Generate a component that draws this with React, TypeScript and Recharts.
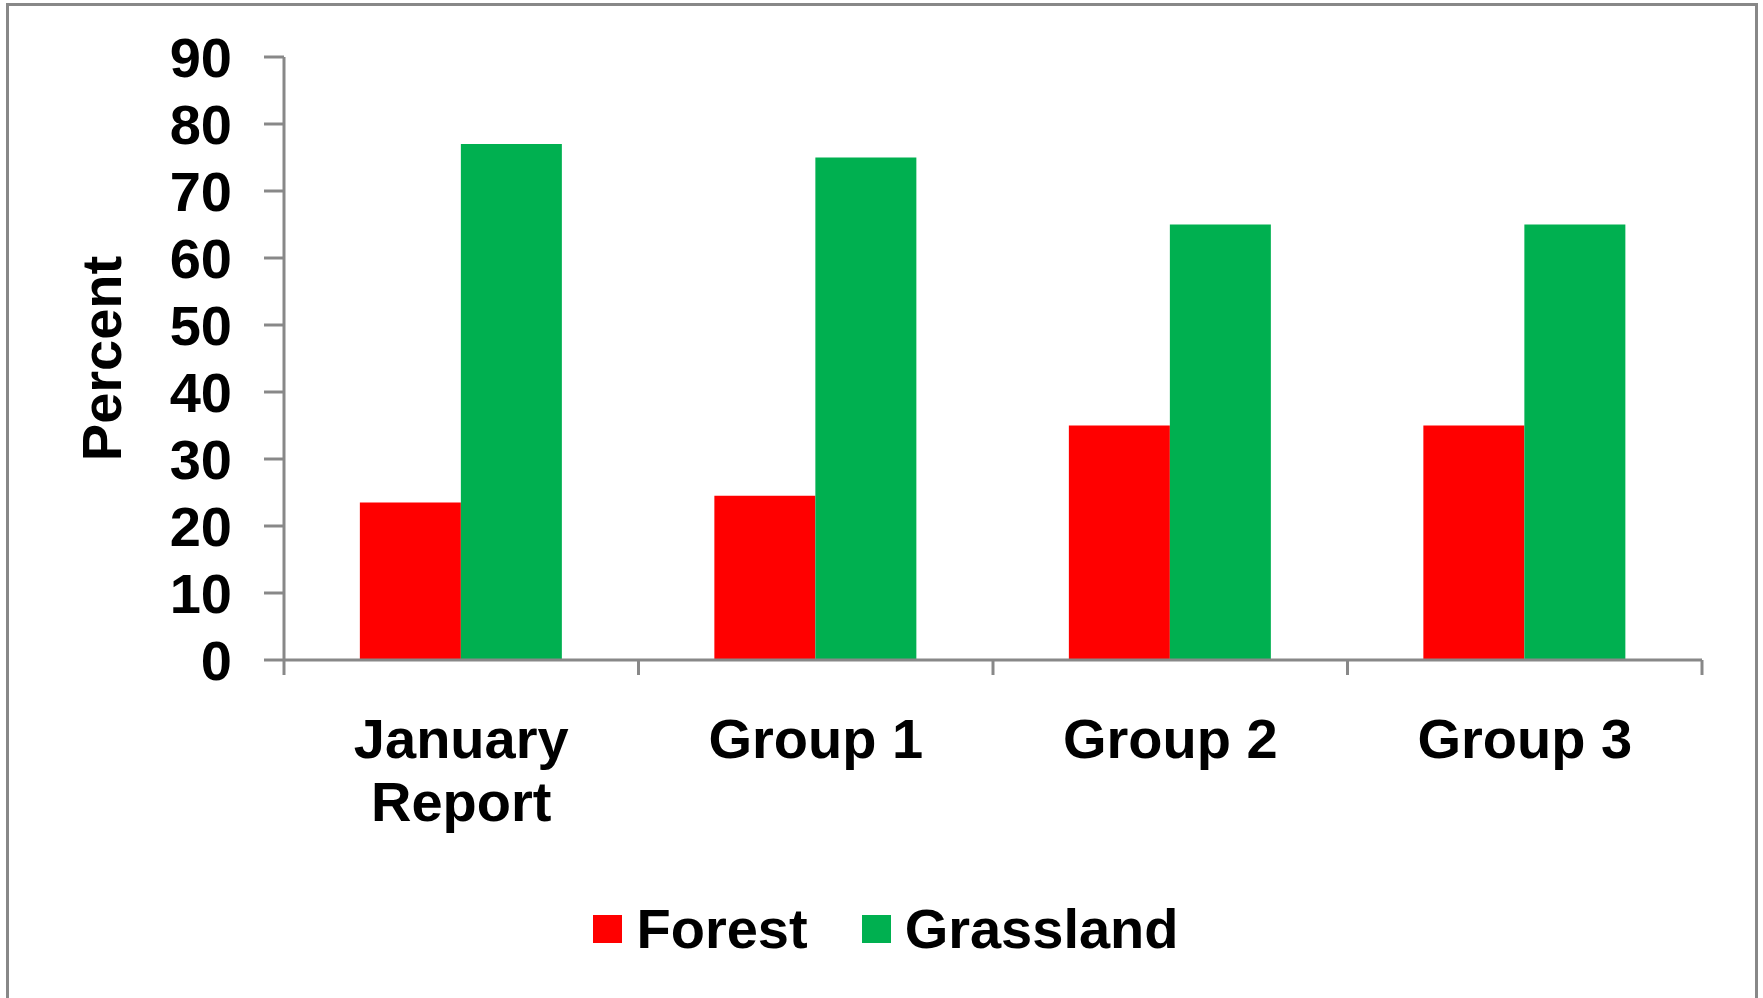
import React from 'react';
import { BarChart, Bar, XAxis, YAxis, Legend, Label } from 'recharts';

const categories = ['January Report', 'Group 1', 'Group 2', 'Group 3'];
const forestValues = [23.5, 24.5, 35, 35];
const grasslandValues = [77, 75, 65, 65];
const percentTicks = [0, 10, 20, 30, 40, 50, 60, 70, 80, 90];

const FONT = '"Liberation Sans", Arial, sans-serif';
const FONT_SIZE = 56;
const AXIS_GREY = '#888888';
const FOREST_RED = '#FF0000';
const GRASS_GREEN = '#00B050';

const WIDTH = 1763;
const HEIGHT = 998;
const MARGIN = { top: 57, right: 61, bottom: 39, left: 0 };
const Y_AXIS_W = 284;
const X_AXIS_H = 239;
const LEGEND_H = 60;

const chartData = categories.map((name, i) => ({
  name,
  forest: forestValues[i],
  grassland: grasslandValues[i],
}));

// half of one category band, used when the tick payload has no offset
const bandHalf = (WIDTH - MARGIN.left - MARGIN.right - Y_AXIS_W) / categories.length / 2;

const textStyle = { fontFamily: FONT, fontSize: FONT_SIZE, fontWeight: 'bold' as const };

let measureCtx: CanvasRenderingContext2D | null = null;
function textWidth(s: string) {
  if (!measureCtx) {
    measureCtx = document.createElement('canvas').getContext('2d');
  }
  if (!measureCtx) return s.length * FONT_SIZE * 0.6;
  measureCtx.font = `bold ${FONT_SIZE}px ${FONT}`;
  return measureCtx.measureText(s).width;
}

// greedy word wrap into the category band
function wrapLabel(label: string, maxWidth: number) {
  const lines: string[] = [];
  let current = '';
  label.split(' ').forEach((word) => {
    const next = current ? `${current} ${word}` : word;
    if (current && textWidth(next) > maxWidth) {
      lines.push(current);
      current = word;
    } else {
      current = next;
    }
  });
  if (current) lines.push(current);
  return lines;
}

// Category label plus tick marks on the band edges (Excel style)
function CategoryTick(props: any) {
  const { x, y, payload } = props;
  const index = props.index ?? payload?.index ?? 0;
  const half = payload && payload.offset ? payload.offset : bandHalf;
  const isLast = index === categories.length - 1;
  const lines = wrapLabel(String(payload.value), half * 2 - 20);
  return (
    <g>
      <line x1={x - half} x2={x - half} y1={y} y2={y + 15} stroke={AXIS_GREY} strokeWidth={3} />
      {isLast && (
        <line x1={x + half} x2={x + half} y1={y} y2={y + 15} stroke={AXIS_GREY} strokeWidth={3} />
      )}
      <text x={x} y={y + 98} textAnchor="middle" fill="#000" style={textStyle}>
        {lines.map((line, i) => (
          <tspan key={line} x={x} dy={i === 0 ? 0 : 63}>
            {line}
          </tspan>
        ))}
      </text>
    </g>
  );
}

function PercentLabel(props: any) {
  const { viewBox } = props;
  const cx = viewBox.x + 101;
  const cy = viewBox.y + viewBox.height / 2;
  return (
    <text
      x={cx}
      y={cy}
      transform={`rotate(-90, ${cx}, ${cy})`}
      textAnchor="middle"
      dominantBaseline="central"
      fill="#000"
      style={textStyle}
    >
      Percent
    </text>
  );
}

function LegendContent(props: any) {
  const { payload = [] } = props;
  return (
    <div
      style={{
        display: 'flex',
        justifyContent: 'center',
        alignItems: 'center',
        height: LEGEND_H,
        paddingLeft: 70,
        lineHeight: `${LEGEND_H}px`,
        color: '#000',
        ...textStyle,
      }}
    >
      {payload.map((entry: any, i: number) => (
        <div
          key={entry.value}
          style={{ display: 'flex', alignItems: 'center', marginLeft: i ? 54 : 0 }}
        >
          <span
            style={{
              display: 'inline-block',
              width: 29,
              height: 28,
              background: entry.color,
              marginRight: 14,
            }}
          />
          <span>{entry.value}</span>
        </div>
      ))}
    </div>
  );
}

export default function App() {
  return (
    <div
      style={{
        position: 'absolute',
        left: 0,
        top: 0,
        width: WIDTH,
        height: HEIGHT,
        overflow: 'hidden',
        background: '#fff',
      }}
    >
      <div
        style={{
          position: 'absolute',
          left: 6,
          top: 3,
          width: 1752,
          height: 1100,
          border: `3px solid ${AXIS_GREY}`,
          boxSizing: 'border-box',
        }}
      />
      <div style={{ position: 'absolute', left: 0, top: 0 }}>
        <BarChart
          width={WIDTH}
          height={HEIGHT}
          data={chartData}
          margin={MARGIN}
          barGap={0}
          barCategoryGap="21.4%"
        >
          <XAxis
            dataKey="name"
            type="category"
            height={X_AXIS_H}
            axisLine={{ stroke: AXIS_GREY, strokeWidth: 3 }}
            tickLine={false}
            tickSize={0}
            tickMargin={0}
            interval={0}
            tick={<CategoryTick />}
          />
          <YAxis
            width={Y_AXIS_W}
            domain={[0, 90]}
            ticks={percentTicks}
            interval={0}
            allowDataOverflow
            axisLine={{ stroke: AXIS_GREY, strokeWidth: 3 }}
            tickLine={{ stroke: AXIS_GREY, strokeWidth: 3 }}
            tickSize={20}
            tickMargin={32}
            tick={{ fill: '#000', ...textStyle }}
          >
            <Label content={<PercentLabel />} />
          </YAxis>
          <Legend verticalAlign="bottom" align="center" height={LEGEND_H} content={<LegendContent />} />
          <Bar dataKey="forest" name="Forest" fill={FOREST_RED} isAnimationActive={false} />
          <Bar dataKey="grassland" name="Grassland" fill={GRASS_GREEN} isAnimationActive={false} />
        </BarChart>
      </div>
    </div>
  );
}
